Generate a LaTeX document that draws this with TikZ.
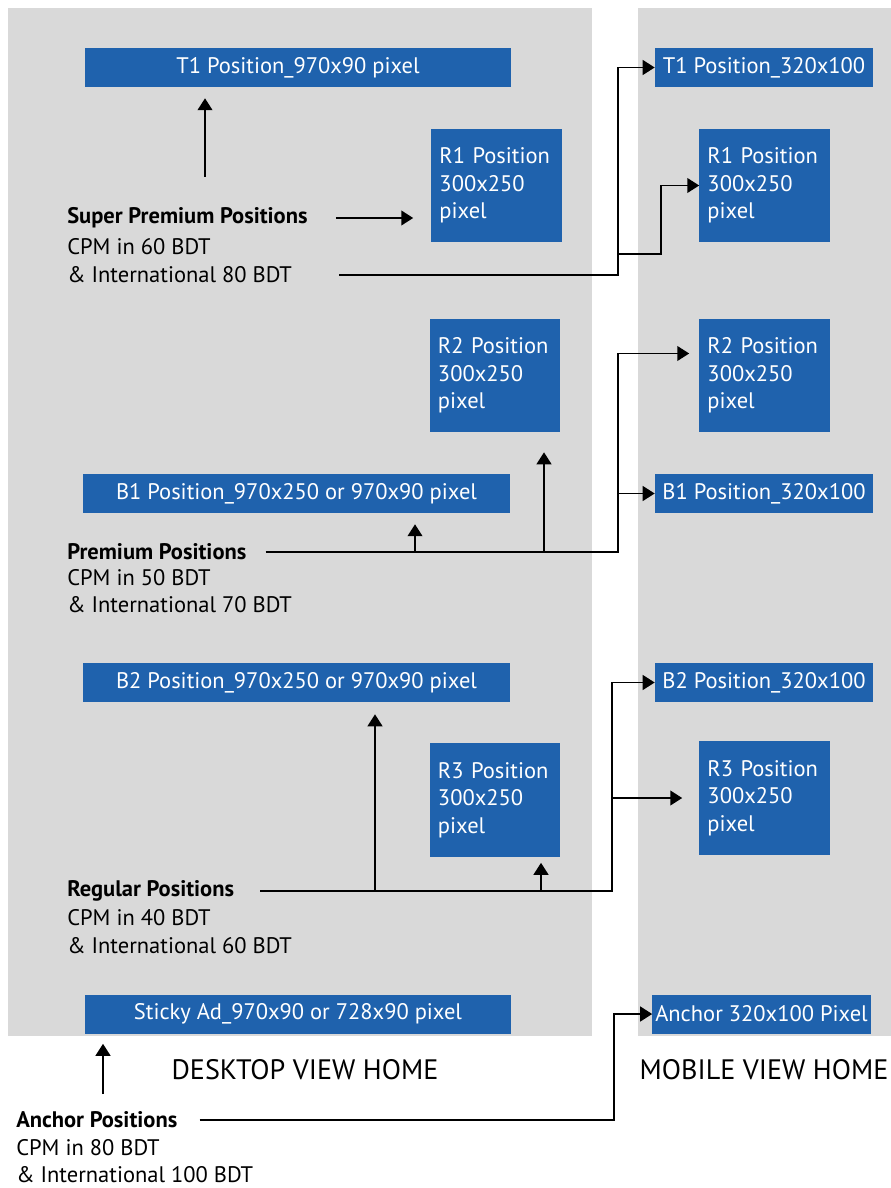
\documentclass[tikz,border=0pt]{standalone}
\usepackage{fontspec}
\setmainfont{PT Sans}
\usetikzlibrary{arrows.meta,calc}
\definecolor{adblue}{HTML}{1F62AD}
\definecolor{panelgray}{HTML}{D9D9D9}
\begin{document}
\begin{tikzpicture}[x=0.025cm, y=-0.025cm,
font=\fontsize{16}{19.5}\selectfont,
box/.style = {fill=adblue, text=white, inner sep=0pt},
wide/.style = {box, minimum width=10.65cm, minimum height=0.975cm},
slim/.style = {box, minimum width=5.45cm, minimum height=0.975cm},
square/.style = {box, minimum height=2.825cm, text width=2.85cm, inner xsep=0.2cm, align=left},
title/.style = {anchor=west, inner sep=0pt, font=\fontsize{16}{19.5}\selectfont\bfseries},
label/.style = {anchor=west, inner sep=0pt},
head/.style = {font=\fontsize{20}{24}\selectfont},
line/.style = {line width=1.3pt},
arrow/.style = {line, -{Triangle[length=8.5pt,width=10.5pt]}}]

\useasboundingbox[fill=white] (0,0) rectangle (891,1188);
\fill[panelgray] (8,8) rectangle (592,1036);
\fill[panelgray] (638,8) rectangle (891,1036);

\node (t1d) at (298,67.5) [wide] {T1 Position\_970x90 pixel};
\node (r1d) at (496.5,185.5) [square] {R1 Position\\300x250\\pixel};
\node (r2d) at (495,375.5) [square] {R2 Position\\300x250\\pixel};
\node (b1d) at (296.5,493.5) [wide] {B1 Position\_970x250 or 970x90 pixel};
\node (b2d) at (296.5,682.5) [wide] {B2 Position\_970x250 or 970x90 pixel};
\node (r3d) at (495,800) [square] {R3 Position\\300x250\\pixel};
\node (sticky) at (298,1014) [wide] {Sticky Ad\_970x90 or 728x90 pixel};

\node (t1m) at (764,67.5) [slim] {T1 Position\_320x100};
\node (r1m) at (764.5,185.5) [square] {R1 Position\\300x250\\pixel};
\node (r2m) at (764.5,375.5) [square] {R2 Position\\300x250\\pixel};
\node (b1m) at (764,493.5) [slim] {B1 Position\_320x100};
\node (b2m) at (764,682.5) [slim] {B2 Position\_320x100};
\node (r3m) at (764.5,798) [square] {R3 Position\\300x250\\pixel};
\node (anchm) at (761.5,1014) [slim] {Anchor 320x100 Pixel};

\node (sp) at (67,218) [title] {Super Premium Positions};
\node (spcpm) at (67,247) [label] {CPM in 60 BDT};
\node (spint) at (67,275) [label] {\& International 80 BDT};
\node (prem) at (67,552) [title] {Premium Positions};
\node (premcpm) at (67,578) [label] {CPM in 50 BDT};
\node (premint) at (67,605) [label] {\& International 70 BDT};
\node (reg) at (67,891) [title] {Regular Positions};
\node (regcpm) at (67,918) [label] {CPM in 40 BDT};
\node (regint) at (67,946) [label] {\& International 60 BDT};
\node (anc) at (16,1120) [title] {Anchor Positions};
\node (anccpm) at (16,1148) [label] {CPM in 80 BDT};
\node (ancint) at (16,1175) [label] {\& International 100 BDT};

\node (deskhead) at (305,1070) [head] {DESKTOP VIEW HOME};
\node (mobhead) at (764,1070) [head] {MOBILE VIEW HOME};

\coordinate (spup) at (205,177);
\coordinate (spjoin) at (618,254);
\coordinate (pup1) at (415,552);
\coordinate (pup2) at (544,552);
\coordinate (pjoin) at (618,493.5);
\coordinate (rup1) at (375,891);
\coordinate (rup2) at (541,891);
\coordinate (rjoin) at (612,798);
\coordinate (ancup) at (103,1094);

\draw[arrow, shorten >=0.275cm] (spup) -- (spup |- t1d.south);
\draw[arrow, shorten >=0.45cm] ([xshift=0.7cm]sp.east) -- (sp.east -| r1d.west);
\draw[arrow] ([xshift=1.175cm]spint.east) -| ($(t1m.west)+(-37,0)$) -- (t1m.west);
\draw[arrow] (spjoin) -| ($(r1m.west)+(-38,0)$) -- (r1m.west);

\draw[arrow, shorten >=0.25cm] ([xshift=0.475cm]prem.east) -| ($(r2m.west)+(-81,-22)$) -- ($(r2m.west)+(0,-22)$);
\draw[arrow] (pjoin) -- (b1m.west);
\draw[arrow, shorten >=0.275cm] (pup1) -- (pup1 |- b1d.south);
\draw[arrow, shorten >=0.5cm] (pup2) -- (pup2 |- r2d.south);

\draw[arrow] ([xshift=0.65cm]reg.east) -| ($(b2m.west)+(-43,0)$) -- (b2m.west);
\draw[arrow, shorten >=0.425cm] (rjoin) -- (r3m.west);
\draw[arrow, shorten >=0.3cm] (rup1) -- (rup1 |- b2d.south);
\draw[arrow, shorten >=0.15cm] (rup2) -- (rup2 |- r3d.south);

\draw[arrow] ([xshift=0.55cm]anc.east) -| ($(anchm.west)+(-38,0)$) -- (anchm.west);
\draw[arrow, shorten >=0.25cm] (ancup) -- (ancup |- sticky.south);
\end{tikzpicture}
\end{document}
